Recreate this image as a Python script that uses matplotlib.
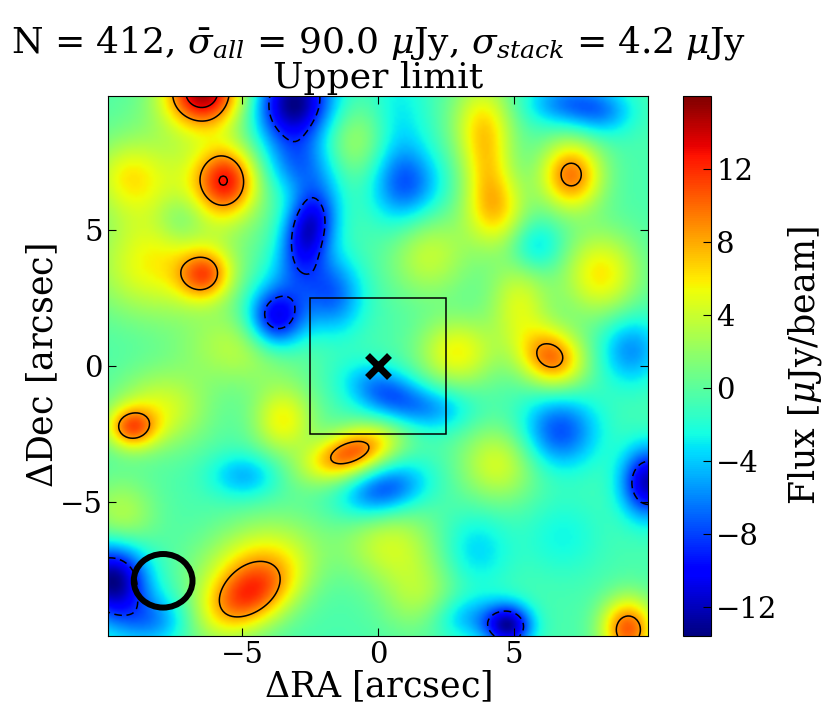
import numpy as np
import matplotlib
matplotlib.use("Agg")
import matplotlib.pyplot as plt
from matplotlib.patches import Ellipse, Rectangle

plt.rcParams['font.family'] = ['DejaVu Serif']
plt.rcParams['mathtext.fontset'] = 'dejavuserif'

# stack summary
n_sources = 412
sigma_all = 90.0
sigma_stack = 4.2

# map size (arcsec half width) and colour range (uJy/beam)
half_size = 9.93
flux_min = -13.6
flux_max = 16.0
background = -0.6

# blobs: centre, peak, widths, angle
blob_x = [-6.45, -5.6, -6.4, -7.5, -9.3, -5.0, -8.5, 3.85, 4.3, 4.0,
          7.1, 8.2, 6.4, 5.2, 2.9, 1.8, -9.1, -8.0, -3.5, -1.0,
          -4.8, -4.6, 4.4, 9.2, -9.5, 0.4, 1.5, -0.8,
          -3.1, -2.55, -3.77, -1.7, -2.9, 0.3, 2.1, 1.17, 0.7, 7.0,
          8.3, 5.8, 9.3, 6.67, 9.95, 0.2, -4.95, 3.6, 6.8, 4.8,
          3.4, -9.8, -8.3, -7.3, -3.0]
blob_y = [10.1, 6.85, 3.35, 6.0, 7.0, 0.7, 3.5, 8.9, 5.8, 7.3,
          7.05, 3.4, 0.3, 2.3, 0.5, 4.1, -2.27, -1.6, -2.0, -3.2,
          -8.5, -7.0, -3.6, -9.7, -5.6, -6.6, -8.5, 8.3,
          9.7, 5.1, 1.75, 2.6, 7.4, -1.0, -1.6, 6.7, 8.0, 9.7,
          9.3, 4.4, 0.6, -2.4, -4.3, -4.6, -4.05, -6.8, -6.3, -9.6,
          -9.3, -7.9, -9.4, 5.4, 3.4]
blob_amp = [15.0, 11.0, 8.5, 4.5, 4.0, 4.0, 4.0, 6.5, 7.0, 3.0,
            10.0, 6.5, 10.0, 5.0, 6.0, 4.5, 9.0, 5.0, 6.0, 11.0,
            11.0, 4.5, 5.0, 11.0, 4.0, 4.5, 3.5, 3.5,
            -13.0, -11.0, -11.0, -6.0, -5.0, -6.5, -3.5, -4.5, -3.5, -5.5,
            -3.5, -3.5, -5.0, -7.0, -11.5, -7.0, -4.0, -3.0, -2.0, -11.0,
            -4.0, -13.0, -5.0, -3.0, -2.5]
blob_sx = [1.0, 0.8, 0.7, 1.8, 0.9, 1.5, 1.5, 0.8, 0.8, 0.6,
           0.8, 1.0, 0.85, 0.8, 1.0, 1.1, 0.65, 1.2, 0.8, 1.2,
           1.4, 1.6, 1.0, 0.7, 0.9, 1.2, 1.0, 1.0,
           1.0, 0.65, 0.75, 0.8, 0.9, 1.1, 1.0, 0.9, 0.8, 1.1,
           0.8, 0.7, 0.8, 1.0, 0.7, 1.1, 0.9, 0.9, 1.0, 0.6,
           1.0, 0.9, 1.0, 0.7, 0.9]
blob_sy = [0.9, 0.9, 0.65, 2.2, 0.9, 1.0, 1.2, 1.2, 1.0, 1.0,
           0.9, 1.1, 0.75, 1.2, 0.9, 1.1, 0.55, 1.0, 0.9, 0.6,
           0.85, 1.0, 1.0, 0.8, 1.0, 1.0, 1.0, 1.0,
           1.1, 1.1, 0.8, 1.0, 0.8, 0.65, 0.6, 0.9, 2.2, 0.6,
           0.6, 0.7, 0.9, 0.95, 0.9, 0.65, 0.6, 1.0, 1.0, 0.55,
           0.6, 1.0, 0.7, 0.7, 0.8]
blob_pa = [0, 0, 20, 0, 0, 0, 0, 0, 0, 0,
           0, 0, -30, 0, 0, 0, 0, 0, 0, 20,
           30, 20, 0, 0, 0, 0, 0, 0,
           -15, -15, 0, 0, 0, -20, 0, 0, 0, 0,
           0, 0, 0, 0, 0, 15, 0, 0, 0, 0,
           0, 0, 0, 0, 0]

neg_levels = [-2 * sigma_stack]
pos_levels = [2 * sigma_stack, 3 * sigma_stack]
cbar_ticks = [-12, -8, -4, 0, 4, 8, 12]
axis_ticks = [-5, 0, 5]

# beam and box
beam_xy = (-7.9, -7.9)
beam_w, beam_h = 2.16, 1.97
box_half = 2.5

# build the map from the blobs
g = np.linspace(-half_size, half_size, 240)
xx, yy = np.meshgrid(g, g)
flux = np.full_like(xx, background)
for bx, by, ba, sx, sy, pa in zip(blob_x, blob_y, blob_amp, blob_sx, blob_sy, blob_pa):
    t = np.deg2rad(pa)
    u = (xx - bx) * np.cos(t) + (yy - by) * np.sin(t)
    v = -(xx - bx) * np.sin(t) + (yy - by) * np.cos(t)
    flux += ba * np.exp(-0.5 * ((u / sx) ** 2 + (v / sy) ** 2))

fig = plt.figure(figsize=(8.3, 7.17), dpi=100)
ax = fig.add_axes([0.130, 0.113, 0.651, 0.753])
cax = fig.add_axes([0.823, 0.113, 0.034, 0.753])

im = ax.imshow(flux, origin='lower', cmap='jet', vmin=flux_min, vmax=flux_max,
               extent=[-half_size, half_size, -half_size, half_size],
               interpolation='bilinear', aspect='auto')
ax.contour(xx, yy, flux, levels=pos_levels, colors='k', linewidths=1.1)
ax.contour(xx, yy, flux, levels=neg_levels, colors='k', linewidths=1.1,
           linestyles=[(0, (5, 3))])

ax.add_patch(Rectangle((-box_half, -box_half), 2 * box_half, 2 * box_half,
                       fill=False, ec='k', lw=1.1))
ax.plot([0], [0], marker='x', ms=16, mew=5, color='k')
ax.add_patch(Ellipse(beam_xy, beam_w, beam_h, fill=False, ec='k', lw=4.3))

ax.set_xlim(-half_size, half_size)
ax.set_ylim(-half_size, half_size)
ax.set_xticks(axis_ticks)
ax.set_yticks(axis_ticks)
ax.tick_params(direction='in', length=6, top=True, right=True, labelsize=21)
ax.set_xlabel(r'$\Delta$RA [arcsec]', fontsize=25, labelpad=0)
ax.set_ylabel(r'$\Delta$Dec [arcsec]', fontsize=25, labelpad=0)
ax.set_title('N = %d, $\\bar{\\sigma}_{all}$ = %.1f $\\mu$Jy, $\\sigma_{stack}$ = %.1f $\\mu$Jy\nUpper limit'
             % (n_sources, sigma_all, sigma_stack), fontsize=26, linespacing=0.95, pad=6)

cb = fig.colorbar(im, cax=cax, ticks=cbar_ticks)
cb.ax.tick_params(direction='in', length=6, labelsize=21)
cb.set_label(r'Flux [$\mu$Jy/beam]', fontsize=25, labelpad=6)

fig.savefig('out.png', dpi=100)
